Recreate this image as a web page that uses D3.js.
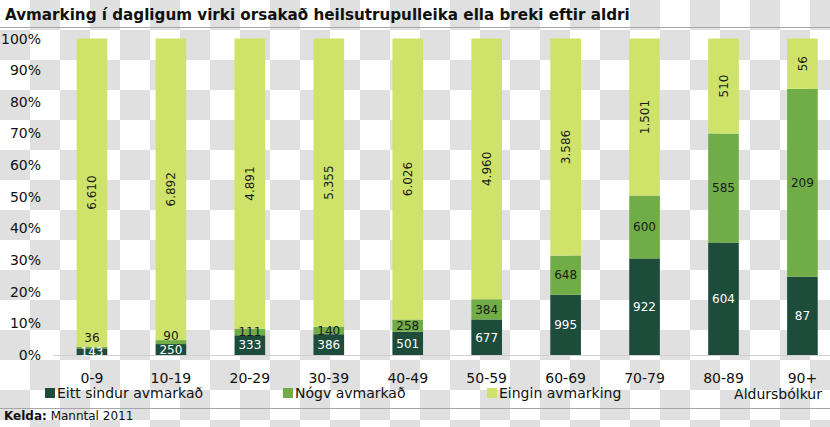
<!DOCTYPE html>
<html>
<head>
<meta charset="utf-8">
<script src="https://cdn.jsdelivr.net/npm/d3@7"></script>
<style>
  html, body { margin: 0; padding: 0; background: #fff; }
  svg { display: block; font-family: "DejaVu Sans", Verdana, sans-serif; }
</style>
</head>
<body>
<svg id="chart" width="830" height="427"></svg>
<script>
// ---- data ----
const categories = ["0-9", "10-19", "20-29", "30-39", "40-49", "50-59", "60-69", "70-79", "80-89", "90+"];
const eittSindur = [143, 250, 333, 386, 501, 677, 995, 922, 604, 87];
const nogv = [36, 90, 111, 140, 258, 384, 648, 600, 585, 209];
const eingin = [6610, 6892, 4891, 5355, 6026, 4960, 3586, 1501, 510, 56];
const seriesNames = ["Eitt sindur avmarkað", "Nógv avmarkað", "Eingin avmarking"];
const yTicks = [0, 0.1, 0.2, 0.3, 0.4, 0.5, 0.6, 0.7, 0.8, 0.9, 1.0];
const titleText = "Avmarking í dagligum virki orsakað heilsutrupulleika ella breki eftir aldri";
const axisTitle = "Aldursbólkur";
const sourceLabel = "Kelda:";
const sourceText = " Manntal 2011";

const colors = ["#1d4c3b", "#70ad47", "#cfe36a"];
const labelColors = ["#ffffff", "#1a1a1a", "#1a1a1a"];

const W = 830, H = 427;
const svg = d3.select("#chart");

// ---- checkerboard background ----
const cell = 30;
const cells = [];
for (let r = 0; r * cell < H; r++) for (let c = 0; c * cell < W; c++) cells.push({r, c});
svg.append("g").selectAll("rect").data(cells.filter(d => (d.r + d.c) % 2 === 1)).join("rect")
  .attr("x", d => d.c * cell).attr("y", d => d.r * cell)
  .attr("width", cell).attr("height", cell).attr("fill", "#e0e0e0");

// ---- title ----
const title = svg.append("text").attr("x", 5).attr("y", 20)
  .attr("font-weight", "bold").attr("font-size", 15).attr("fill", "#111")
  .text(titleText);
const tw = title.node().getComputedTextLength();
title.attr("font-size", 15 * 625 / tw);
svg.append("line").attr("x1", 0).attr("x2", W).attr("y1", 27.5).attr("y2", 27.5)
  .attr("stroke", "#a6a6a6").attr("stroke-width", 1);

// ---- scales ----
const x = d3.scaleBand().domain(categories).range([52.5, 841.9]).paddingInner(0.612).paddingOuter(0.306);
const y = d3.scaleLinear().domain([0, 1]).range([355, 38.5]);

// stacked data
const rows = categories.map((cat, i) => ({cat, s0: eittSindur[i], s1: nogv[i], s2: eingin[i]}));
const stack = d3.stack().keys(["s0", "s1", "s2"]).offset(d3.stackOffsetExpand);
const layers = stack(rows);

// baseline
svg.append("line").attr("x1", 53).attr("x2", W).attr("y1", y(0) + 0.5).attr("y2", y(0) + 0.5)
  .attr("stroke", "#d0d0d0");

// bars
layers.forEach((layer, li) => {
  svg.append("g").selectAll("rect").data(layer).join("rect")
    .attr("x", d => x(d.data.cat))
    .attr("width", x.bandwidth())
    .attr("y", d => y(d[1]))
    .attr("height", d => y(d[0]) - y(d[1]))
    .attr("fill", colors[li]);
});

// labels
const fmt = v => d3.format(",")(v).replace(/,/g, ".");
const darkY = layers[0].map(d => (y(d[0]) + y(d[1])) / 2);
// dark segment labels
svg.append("g").selectAll("text").data(layers[0]).join("text")
  .attr("x", d => x(d.data.cat) + x.bandwidth() / 2)
  .attr("y", (d, i) => darkY[i])
  .attr("dy", "0.36em").attr("text-anchor", "middle")
  .attr("font-size", 12).attr("fill", labelColors[0])
  .text(d => fmt(d.data.s0));
// mid segment labels
svg.append("g").selectAll("text").data(layers[1]).join("text")
  .attr("x", d => x(d.data.cat) + x.bandwidth() / 2)
  .attr("y", (d, i) => Math.min((y(d[0]) + y(d[1])) / 2, darkY[i] - 13.5))
  .attr("dy", "0.36em").attr("text-anchor", "middle")
  .attr("font-size", 12).attr("fill", labelColors[1])
  .text(d => fmt(d.data.s1));
// light segment labels (rotated)
svg.append("g").selectAll("text").data(layers[2]).join("text")
  .attr("transform", d => `translate(${x(d.data.cat) + x.bandwidth() / 2},${(y(d[0]) + y(d[1])) / 2}) rotate(-90)`)
  .attr("dy", "0.36em").attr("text-anchor", "middle")
  .attr("font-size", 12).attr("fill", labelColors[2])
  .text(d => fmt(d.data.s2));

// y axis labels
svg.append("g").selectAll("text").data(yTicks).join("text")
  .attr("x", 41).attr("y", d => y(d)).attr("dy", "0.36em")
  .attr("text-anchor", "end").attr("font-size", 14).attr("fill", "#111")
  .text(d => d3.format(".0%")(d));

// x axis labels
svg.append("g").selectAll("text").data(categories).join("text")
  .attr("x", d => x(d) + x.bandwidth() / 2).attr("y", 383)
  .attr("text-anchor", "middle").attr("font-size", 14).attr("fill", "#111")
  .text(d => d);

// legend
const legendX = [57, 295, 499];
const lg = svg.append("g").selectAll("g").data(seriesNames).join("g");
lg.append("rect").attr("x", (d, i) => legendX[i] - 12).attr("y", 388)
  .attr("width", 10).attr("height", 10).attr("fill", (d, i) => colors[i]);
lg.append("text").attr("x", (d, i) => legendX[i]).attr("y", 398)
  .attr("font-size", 14).attr("fill", "#111").text(d => d);

svg.append("text").attr("x", 822).attr("y", 399).attr("text-anchor", "end")
  .attr("font-size", 14).attr("fill", "#111").text(axisTitle);

// source
svg.append("line").attr("x1", 0).attr("x2", W).attr("y1", 408.5).attr("y2", 408.5)
  .attr("stroke", "#a6a6a6");
const src = svg.append("text").attr("x", 4).attr("y", 420).attr("font-size", 12).attr("fill", "#111");
src.append("tspan").attr("font-weight", "bold").text(sourceLabel);
src.append("tspan").text(sourceText);
</script>
</body>
</html>
